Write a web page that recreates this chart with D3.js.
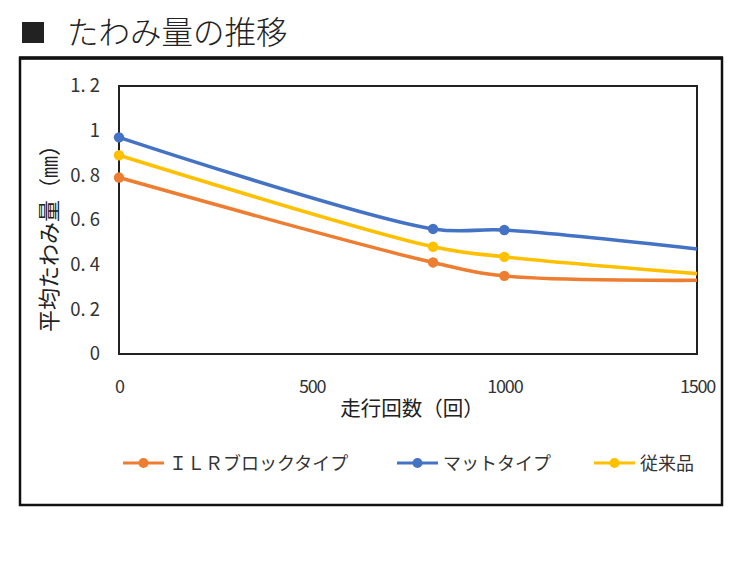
<!DOCTYPE html>
<html><head><meta charset="utf-8">
<script src="https://cdn.jsdelivr.net/npm/d3@7"></script>
<style>
body{margin:0;background:#fff;}
text{font-family:"Noto Sans CJK JP","Noto Sans",sans-serif;}
</style></head>
<body><svg id="c" width="752" height="564"></svg>
<script>
const runs = [0, 815, 1000, 1500];
const ilr = [0.79, 0.41, 0.35, 0.33];
const mat = [0.97, 0.56, 0.555, 0.47];
const conv = [0.89, 0.48, 0.435, 0.36];
const seriesNames = ["ＩＬＲブロックタイプ", "マットタイプ", "従来品"];
const yTicks = [0, 0.2, 0.4, 0.6, 0.8, 1, 1.2];
const xTicks = [0, 500, 1000, 1500];
const title = "たわみ量の推移";
const xTitle = "走行回数（回）";
const yTitle = "平均たわみ量（㎜）";

const colors = ["#ED7D31", "#4472C4", "#FFC000"];
const svg = d3.select("#c");
const L = 119, R = 697, T = 86, B = 354;
const x = d3.scaleLinear().domain([0, 1500]).range([L, R]);
const y = d3.scaleLinear().domain([0, 1.2]).range([B, T]);

// title
svg.append("rect").attr("x", 22).attr("y", 22).attr("width", 22).attr("height", 21).attr("fill", "#222");
svg.append("text").attr("x", 67).attr("y", 44).attr("font-size", 31.5).attr("fill", "#222").attr("font-weight", 300).text(title);

// frame
svg.append("rect").attr("x", 20).attr("y", 58).attr("width", 702).attr("height", 447)
  .attr("fill", "none").attr("stroke", "#111").attr("stroke-width", 2.5);
svg.append("line").attr("x1", 19).attr("x2", 723).attr("y1", 58).attr("y2", 58).attr("stroke", "#111").attr("stroke-width", 3.5);

// plot border
svg.append("rect").attr("x", L).attr("y", T).attr("width", R - L).attr("height", B - T)
  .attr("fill", "none").attr("stroke", "#222").attr("stroke-width", 2);

// y axis
const ya = svg.append("g").attr("transform", `translate(${L},0)`)
  .call(d3.axisLeft(y).tickValues(yTicks).tickSize(0).tickPadding(19).tickFormat(d => String(d)));
ya.select(".domain").remove();
ya.selectAll("text").attr("font-size", 18.5).attr("fill", "#333")
  .each(function(d){
    const s = String(d);
    if (s.includes(".")) {
      const p = s.split(".");
      const t = d3.select(this).text(null);
      t.append("tspan").text(p[0] + ".");
      t.append("tspan").attr("dx", 4).text(p[1]);
    }
  });

// x axis
const xa = svg.append("g").attr("transform", `translate(0,${B})`)
  .call(d3.axisBottom(x).tickValues(xTicks).tickSize(0).tickPadding(26).tickFormat(d => String(d)));
xa.select(".domain").remove();
xa.selectAll("text").attr("font-size", 18).attr("fill", "#333").attr("letter-spacing", -1.2);

svg.append("text").attr("x", 412).attr("y", 416).attr("text-anchor", "middle").attr("font-size", 20.5).attr("fill", "#222").text(xTitle);
svg.append("text").attr("transform", "translate(57,233) rotate(-90)").attr("text-anchor", "middle")
  .attr("font-size", 22).attr("fill", "#222").text(yTitle);

// lines
const data = [ilr, mat, conv];
const line = d3.line().x((d, i) => x(runs[i])).y(d => y(d)).curve(d3.curveCatmullRom.alpha(0.5));
const order = [0, 2, 1];
order.forEach(k => {
  svg.append("path").attr("d", line(data[k])).attr("fill", "none").attr("stroke", colors[k]).attr("stroke-width", 3.6);
});
order.forEach(k => {
  svg.selectAll(null).data(data[k].slice(0, 3)).enter().append("circle")
    .attr("cx", (d, i) => x(runs[i])).attr("cy", d => y(d)).attr("r", 5.2).attr("fill", colors[k]);
});

// legend
const legX = [123, 397, 594];
const ly = 463;
seriesNames.forEach((n, k) => {
  const g = svg.append("g");
  g.append("line").attr("x1", legX[k]).attr("x2", legX[k] + 41).attr("y1", ly).attr("y2", ly).attr("stroke", colors[k]).attr("stroke-width", 3);
  g.append("circle").attr("cx", legX[k] + 20.5).attr("cy", ly).attr("r", 5).attr("fill", colors[k]);
  g.append("text").attr("x", legX[k] + 46).attr("y", ly + 6.5).attr("font-size", 18).attr("fill", "#333").text(n);
});
</script></body></html>
